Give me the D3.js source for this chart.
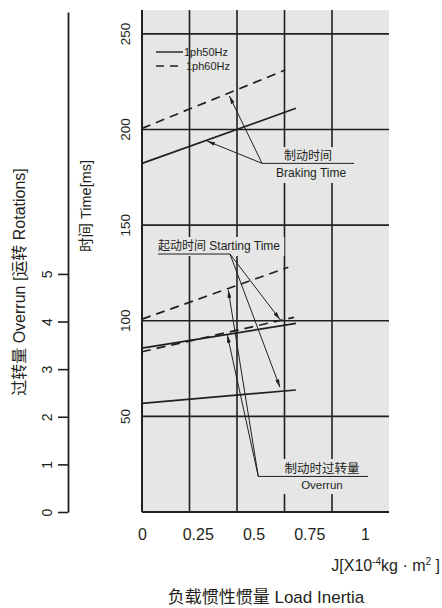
<!DOCTYPE html>
<html>
<head>
<meta charset="utf-8">
<title>brake chart</title>
<style>
  body { margin: 0; background: #fff; }
  text { fill: #231f20; font-family: 'Liberation Sans', 'Noto Sans CJK SC', sans-serif; }
</style>
</head>
<body>
<script src="https://d3js.org/d3.v7.min.js"></script>
<script>

var width = 442, height = 608;

// x ticks (load inertia) and grid
var inertiaTicks = [0, 0.25, 0.5, 0.75, 1];
var gridJ = [0.25, 0.5, 0.75, 1];
var timeTicks = [50, 100, 150, 200, 250];
var rotTicks = [0, 1, 2, 3, 4, 5];

// braking time [ms]
var brakeJ50 = [0, 0.81], brakeMs50 = [182.3, 211.1];
var brakeJ60 = [0, 0.754], brakeMs60 = [200.6, 231.1];
// starting time [ms]
var startJ50 = [0, 0.81], startMs50 = [56.8, 63.8];
var startJ60 = [0, 0.80], startMs60 = [83.8, 101.8];
// overrun [rotations]
var overJ50 = [0, 0.81], overRot50 = [3.44, 3.96];
var overJ60 = [0, 0.77], overRot60 = [4.05, 5.14];

var dark = '#231f20';

var x = d3.scaleLinear().domain([0, 1.3]).range([142, 389]);     // grid / data
var xLab = d3.scaleLinear().domain([0, 1]).range([142, 365]);    // printed tick labels
var yT = d3.scaleLinear().domain([0, 262.5]).range([512, 10]);   // time
var yR = d3.scaleLinear().domain([0, 10.5]).range([512, 12]);    // rotations

var svg = d3.select('body').append('svg')
    .attr('width', width)
    .attr('height', height);

svg.append('defs').append('marker')
    .attr('id', 'arr')
    .attr('viewBox', '0 0 8 4')
    .attr('refX', 8).attr('refY', 2)
    .attr('markerWidth', 8).attr('markerHeight', 4)
    .attr('markerUnits', 'userSpaceOnUse')
    .attr('orient', 'auto')
  .append('path')
    .attr('d', 'M0,0L8,2L0,4Z')
    .attr('fill', dark);

// plot background
svg.append('rect')
    .attr('x', x(0)).attr('y', yT(262.5))
    .attr('width', x(1.3) - x(0)).attr('height', yT(0) - yT(262.5))
    .attr('fill', '#e6e6e6');

// grid
svg.append('g').selectAll('line').data(gridJ).enter().append('line')
    .attr('x1', function (d) { return x(d); }).attr('x2', function (d) { return x(d); })
    .attr('y1', yT(262.5)).attr('y2', yT(0))
    .attr('stroke', dark).attr('stroke-width', 1.6);
svg.append('g').selectAll('line').data(timeTicks).enter().append('line')
    .attr('x1', x(0)).attr('x2', x(1.3))
    .attr('y1', function (d) { return yT(d); }).attr('y2', function (d) { return yT(d); })
    .attr('stroke', dark).attr('stroke-width', 1.6);

var bgLayer = svg.append('g');   // label backgrounds (break the grid)
var markLayer = svg.append('g');
var textLayer = svg.append('g');

function series(js, vs, yScale, dashed) {
    var pts = js.map(function (j, i) { return [j, vs[i]]; });
    markLayer.append('path')
        .attr('d', d3.line().x(function (d) { return x(d[0]); }).y(function (d) { return yScale(d[1]); })(pts))
        .attr('fill', 'none').attr('stroke', dark).attr('stroke-width', 1.7)
        .attr('stroke-dasharray', dashed ? '9,6' : null);
}
series(brakeJ50, brakeMs50, yT, false);
series(brakeJ60, brakeMs60, yT, true);
series(startJ50, startMs50, yT, false);
series(startJ60, startMs60, yT, true);
series(overJ50, overRot50, yR, false);
series(overJ60, overRot60, yR, true);

// annotations: corner, underline end, arrow tips (inertia, ms)
var notes = [
    { corner: [0.632, 182.3], lineTo: 1.116, tips: [[0.342, 194.0], [0.46, 217.5]],
      lines: [{ t: '制动时间', j: 0.874, ms: 184, size: 12 }, { t: 'Braking Time', j: 0.89, ms: 175.2, size: 12 }] },
    { corner: [0.463, 134.9], lineTo: 0.084, tips: [[0.726, 100.7], [0.726, 65.2]],
      lines: [{ t: '起动时间 Starting Time', j: 0.084, ms: 137, size: 12, anchor: 'start' }] },
    { corner: [0.612, 18.6], lineTo: 1.19, tips: [[0.454, 116.1], [0.449, 92.6]],
      lines: [{ t: '制动时过转量', j: 0.947, ms: 20.4, size: 12.5 }, { t: 'Overrun', j: 0.947, ms: 12, size: 11.5 }] }
];

notes.forEach(function (n) {
    var texts = n.lines.map(function (l) {
        return textLayer.append('text')
            .attr('x', x(l.j)).attr('y', yT(l.ms))
            .attr('text-anchor', l.anchor || 'middle')
            .style('font-size', l.size + 'px')
            .text(l.t);
    });
    var bb = texts.map(function (t) { return t.node().getBBox(); });
    var x0 = d3.min(bb, function (b) { return b.x; }) - 5,
        x1 = d3.max(bb, function (b) { return b.x + b.width; }) + 4,
        y0 = d3.min(bb, function (b) { return b.y; }) - 2,
        y1 = d3.max(bb, function (b) { return b.y + b.height; }) + 3;
    bgLayer.append('rect')
        .attr('x', x0).attr('y', y0).attr('width', x1 - x0).attr('height', y1 - y0)
        .attr('fill', '#e6e6e6');

    markLayer.append('line')
        .attr('x1', x(n.corner[0])).attr('y1', yT(n.corner[1]))
        .attr('x2', x(n.lineTo)).attr('y2', yT(n.corner[1]))
        .attr('stroke', dark).attr('stroke-width', 1);
    n.tips.forEach(function (tp) {
        markLayer.append('line')
            .attr('x1', x(n.corner[0])).attr('y1', yT(n.corner[1]))
            .attr('x2', x(tp[0])).attr('y2', yT(tp[1]))
            .attr('stroke', dark).attr('stroke-width', 1)
            .attr('marker-end', 'url(#arr)');
    });
});

// legend
var legend = svg.append('g').attr('transform', 'translate(156,0)');
[{ t: '1ph50Hz', y: 52, dash: null, dx: 28 }, { t: '1ph60Hz', y: 66, dash: '8,6', dx: 30 }].forEach(function (l) {
    legend.append('line').attr('x1', 0).attr('x2', 27).attr('y1', l.y).attr('y2', l.y)
        .attr('stroke', dark).attr('stroke-width', 1.4).attr('stroke-dasharray', l.dash);
    legend.append('text').attr('x', l.dx).attr('y', l.y).attr('dy', '0.35em')
        .style('font-size', '11px').text(l.t);
});

// plot frame (left + bottom)
svg.append('line').attr('x1', x(0)).attr('x2', x(0)).attr('y1', yT(262.5)).attr('y2', yT(0))
    .attr('stroke', dark).attr('stroke-width', 2);
svg.append('line').attr('x1', x(0)).attr('x2', x(1.3)).attr('y1', yT(0)).attr('y2', yT(0))
    .attr('stroke', dark).attr('stroke-width', 2);

// x axis labels
var xAxis = svg.append('g')
    .attr('transform', 'translate(0,' + yT(0) + ')')
    .call(d3.axisBottom(xLab).tickValues(inertiaTicks).tickSize(0).tickPadding(16.5)
        .tickFormat(d3.format('~g')));
xAxis.select('.domain').remove();
xAxis.selectAll('text').style('font-size', '16px').attr('fill', dark)
    .style('font-family', "'Liberation Sans', sans-serif");

// time tick labels (rotated)
svg.append('g').selectAll('text').data(timeTicks).enter().append('text')
    .attr('transform', function (d) { return 'translate(125,' + yT(d) + ') rotate(-90)'; })
    .attr('text-anchor', 'middle').attr('dy', '0.35em')
    .style('font-family', "'Liberation Sans Narrow', 'Liberation Sans', sans-serif")
    .style('font-size', '13.5px')
    .text(function (d) { return d; });

// rotations axis
var rAxis = svg.append('g')
    .attr('transform', 'translate(68,0)')
    .call(d3.axisLeft(yR).tickValues(rotTicks).tickSize(10).tickSizeOuter(0));
rAxis.select('.domain').attr('stroke', dark).attr('stroke-width', 1.8);
rAxis.selectAll('.tick line').attr('stroke', dark).attr('stroke-width', 1.6);
rAxis.selectAll('.tick text')
    .attr('x', null).attr('y', null).attr('dy', '0.35em')
    .attr('text-anchor', 'middle').attr('fill', dark)
    .attr('transform', 'translate(-21,0) rotate(-90)')
    .style('font-family', "'Liberation Sans Narrow', 'Liberation Sans', sans-serif")
    .style('font-size', '14px');

// axis titles
svg.append('text')
    .attr('transform', 'translate(19,' + yR(4.83) + ') rotate(-90)')
    .attr('text-anchor', 'middle').attr('dy', '0.35em')
    .style('font-size', '16px')
    .text('过转量 Overrun [运转 Rotations]');
svg.append('text')
    .attr('transform', 'translate(86,' + yT(160) + ') rotate(-90)')
    .attr('text-anchor', 'middle').attr('dy', '0.35em')
    .style('font-size', '14.5px')
    .text('时间 Time[ms]');

var unit = svg.append('text')
    .attr('x', 440).attr('y', 571)
    .attr('text-anchor', 'end')
    .style('font-size', '16px');
unit.append('tspan').text('J[X10');
unit.append('tspan').attr('dy', -6).style('font-size', '10px').text('-4');
unit.append('tspan').attr('dy', 6).text('kg  ·  m');
unit.append('tspan').attr('dy', -6).style('font-size', '10px').text('2');
unit.append('tspan').attr('dy', 6).text(' ]');

svg.append('text')
    .attr('x', 266).attr('y', 603)
    .attr('text-anchor', 'middle')
    .style('font-size', '17px')
    .text('负载惯性惯量 Load Inertia');

</script>
</body>
</html>
